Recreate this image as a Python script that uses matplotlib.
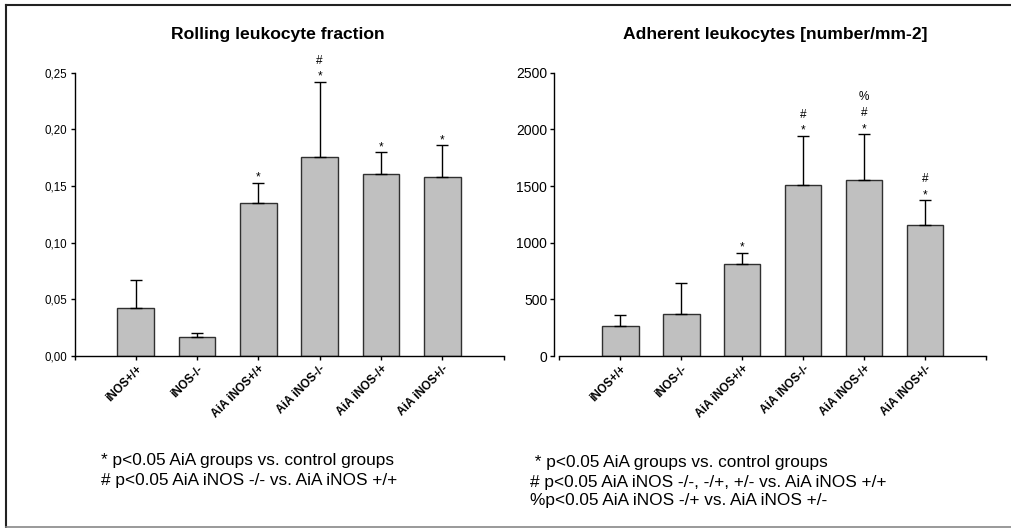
import matplotlib
matplotlib.use('Agg')
import matplotlib.pyplot as plt
from matplotlib.lines import Line2D

plt.rcParams['font.family'] = ['Liberation Sans', 'DejaVu Sans']

# data
groups = ['iNOS+/+', 'iNOS-/-', 'AiA iNOS+/+', 'AiA iNOS-/-', 'AiA iNOS-/+', 'AiA iNOS+/-']

rolling_mean = [0.042, 0.017, 0.135, 0.176, 0.161, 0.158]
rolling_err = [0.025, 0.003, 0.018, 0.066, 0.019, 0.028]
rolling_marks = [[], [], ['*'], ['*', '#'], ['*'], ['*']]
rolling_ticks = [0.0, 0.05, 0.10, 0.15, 0.20, 0.25]

adherent_mean = [265, 370, 810, 1505, 1550, 1160]
adherent_err = [95, 270, 100, 440, 410, 215]
adherent_marks = [[], [], ['*'], ['*', '#'], ['*', '#', '%'], ['*', '#']]
adherent_ticks = [0, 500, 1000, 1500, 2000, 2500]

rolling_notes = ['* p<0.05 AiA groups vs. control groups',
                 '# p<0.05 AiA iNOS -/- vs. AiA iNOS +/+']
adherent_notes = [' * p<0.05 AiA groups vs. control groups',
                  '# p<0.05 AiA iNOS -/-, -/+, +/- vs. AiA iNOS +/+',
                  '%p<0.05 AiA iNOS -/+ vs. AiA iNOS +/-']

W, H = 1011, 528


def draw_panel(ax, means, errs, marks, yticks, ylabels):
    x = list(range(1, len(means) + 1))
    ax.bar(x, means, width=0.6, color='#c0c0c0', edgecolor='#303030',
           linewidth=1.0, zorder=2)
    ax.errorbar(x, means, yerr=[[0] * len(errs), errs], fmt='none',
                ecolor='black', elinewidth=1.0, capsize=4.5, capthick=1.0,
                zorder=3)
    # significance symbols stacked above the error bars
    offsets = [1.4, 13, 24.5]
    for xi, m, e, syms in zip(x, means, errs, marks):
        for k, s in enumerate(syms):
            ax.annotate(s, (xi, m + e), xytext=(0, offsets[k]),
                        textcoords='offset points', ha='center',
                        va='baseline', fontsize=8.5)
    ax.set_xlim(0, 7)
    ax.set_ylim(yticks[0], yticks[-1])
    ax.set_xticks(range(8))
    ax.set_xticklabels([''] + groups + [''], rotation=45, ha='right',
                       va='top', rotation_mode='anchor',
                       fontweight='bold', fontsize=8.5)
    ax.set_yticks(yticks)
    ax.set_yticklabels(ylabels, fontsize=8.3)
    ax.spines['top'].set_visible(False)
    ax.spines['right'].set_visible(False)
    for sp in ['left', 'bottom']:
        ax.spines[sp].set_linewidth(1.0)
    ax.tick_params(axis='both', direction='out', length=3, width=1.0,
                   pad=2)


fig = plt.figure(figsize=(W / 100, H / 100), dpi=100)

bottom = 1 - 356 / H
height = (356 - 72.7) / H
ax1 = fig.add_axes([74.5 / W, bottom, 429 / W, height])
ax2 = fig.add_axes([559.3 / W, bottom, 426.7 / W, height])

draw_panel(ax1, rolling_mean, rolling_err, rolling_marks, rolling_ticks,
           [f'{v:.2f}'.replace('.', ',') for v in rolling_ticks])
draw_panel(ax2, adherent_mean, adherent_err, adherent_marks, adherent_ticks,
           [str(v) for v in adherent_ticks])
ax2.spines['left'].set_position(('outward', 3.6))

fig.text(278 / W, 1 - 34 / H, 'Rolling leukocyte fraction', ha='center',
         va='center', fontsize=12.6, fontweight='bold')
fig.text(775 / W, 1 - 34 / H, 'Adherent leukocytes [number/mm-2]',
         ha='center', va='center', fontsize=12.6, fontweight='bold')

for i, line in enumerate(rolling_notes):
    fig.text(101 / W, 1 - (461 + 19 * i) / H, line, ha='left',
             va='center', fontsize=12.4)
for i, line in enumerate(adherent_notes):
    fig.text(530 / W, 1 - (463 + 19 * i) / H, line, ha='left',
             va='center', fontsize=12.4)

# frame around the whole figure
fig.add_artist(Line2D([6 / W, 1], [1 - 5 / H, 1 - 5 / H], color='#222222',
                      lw=1.5, transform=fig.transFigure))
fig.add_artist(Line2D([6 / W, 6 / W], [1 - 5 / H, 0.5 / H], color='#222222',
                      lw=1.5, transform=fig.transFigure))
fig.add_artist(Line2D([6 / W, 1], [0.8 / H, 0.8 / H], color='#888888',
                      lw=1.2, transform=fig.transFigure))

fig.savefig('out.png', dpi=100)
